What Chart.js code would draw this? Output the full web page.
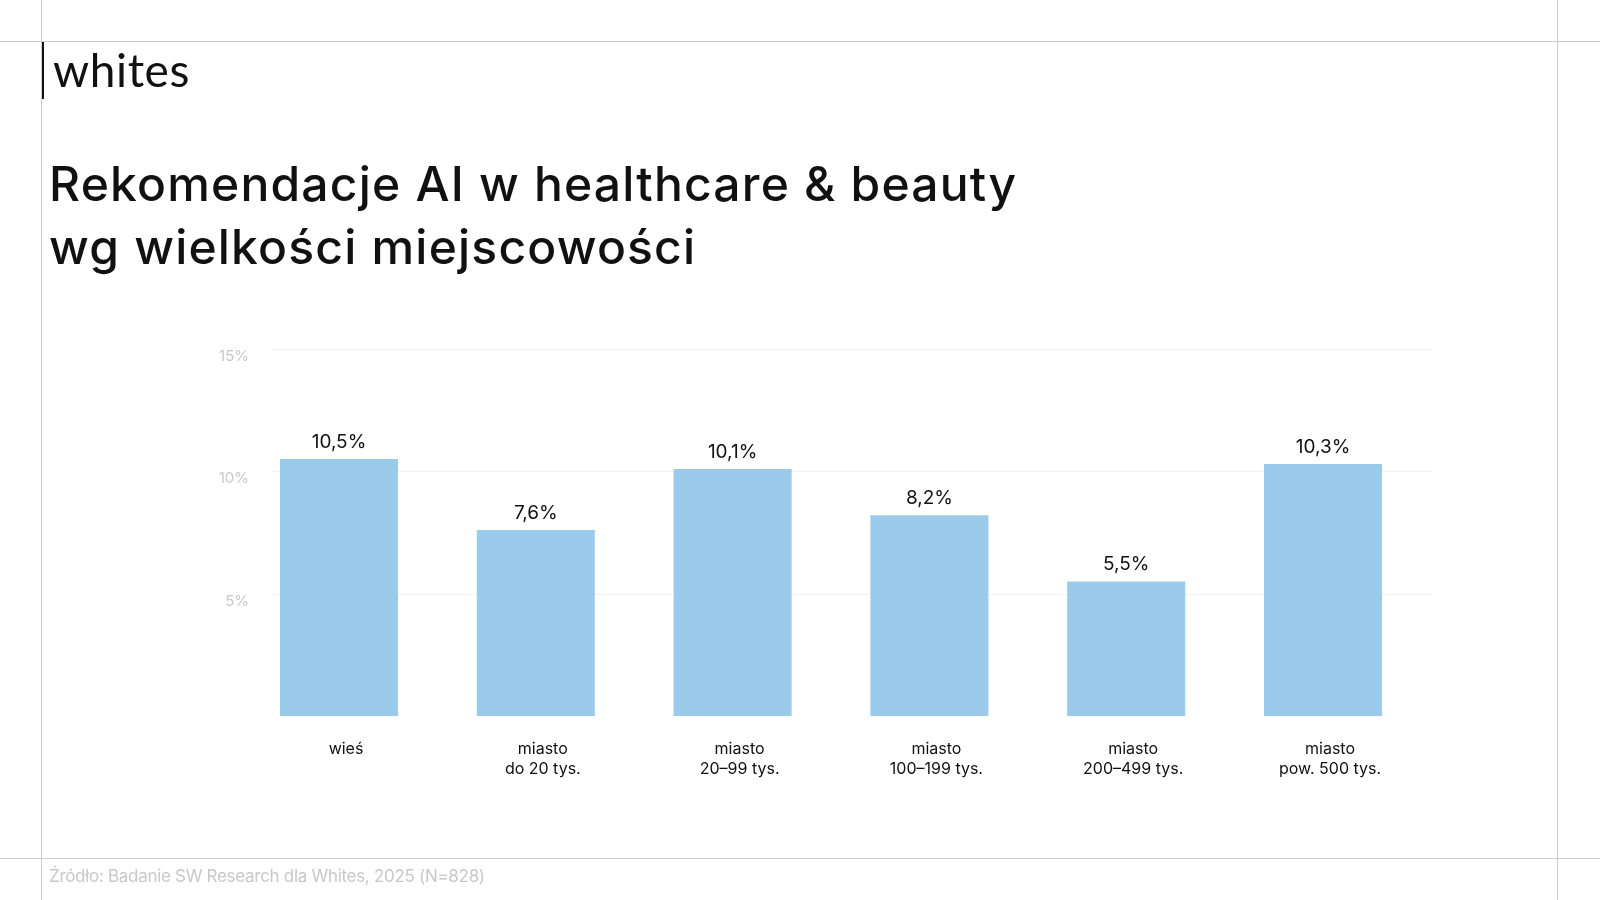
<!DOCTYPE html>
<html lang="pl">
<head>
<meta charset="UTF-8">
<title>Rekomendacje AI w healthcare & beauty</title>
<script src="https://cdn.jsdelivr.net/npm/chart.js"></script>
<style>
    html, body {
        margin: 0;
        padding: 0;
        background: #ffffff;
    }
    body {
        width: 1600px;
        height: 900px;
        position: relative;
        overflow: hidden;
        font-family: Inter, "Noto Sans", sans-serif;
    }
    .hline, .vline {
        position: absolute;
        background: #cccccc;
    }
    .hline { left: 0; width: 1600px; height: 1px; }
    .vline { top: 0; height: 900px; width: 1px; }

    #logo {
        position: absolute;
        left: 53px;
        top: 40px;
        font-family: Lato, "Noto Sans", sans-serif;
        font-size: 46px;
        line-height: 60px;
        letter-spacing: 0.6px;
        color: #111;
    }
    #logoBar {
        position: absolute;
        left: 42px;
        top: 42px;
        width: 2px;
        height: 57px;
        background: #111;
    }
    #title {
        position: absolute;
        left: 49px;
        top: 152px;
        margin: 0;
        font-size: 48px;
        line-height: 63px;
        font-weight: 500;
        color: #111;
        letter-spacing: 1.2px;
    }
    #source {
        position: absolute;
        left: 49px;
        top: 864px;
        font-size: 17px;
        line-height: 24px;
        letter-spacing: -0.3px;
        color: #c8c8c8;
    }
    #chart {
        position: absolute;
        left: 0;
        top: 0;
    }
</style>
</head>
<body>

<canvas id="chart" width="1600" height="900"></canvas>

<div class="hline" style="top:41px"></div>
<div class="hline" style="top:858px"></div>
<div class="vline" style="left:41px"></div>
<div class="vline" style="left:1557px"></div>

<div id="logoBar"></div>
<div id="logo">whites</div>

<h1 id="title">Rekomendacje AI w healthcare &amp; beauty<br>wg wielkości miejscowości</h1>

<div id="source">Źródło: Badanie SW Research dla Whites, 2025 (N=828)</div>

<script>
    // dane
    const categories = [
        ['wieś'],
        ['miasto', 'do 20 tys.'],
        ['miasto', '20–99 tys.'],
        ['miasto', '100–199 tys.'],
        ['miasto', '200–499 tys.'],
        ['miasto', 'pow. 500 tys.']
    ];
    const values = [10.5, 7.6, 10.1, 8.2, 5.5, 10.3];
    const yTickValues = [0, 5, 10, 15];

    const fmt = v => v.toFixed(1).replace('.', ',') + '%';

    // siatka i etykiety osi Y (siatka szersza niz obszar wykresu)
    const yAxisPlugin = {
        id: 'softGrid',
        beforeDatasetsDraw(chart) {
            const { ctx, scales } = chart;
            ctx.save();
            ctx.strokeStyle = '#f1f1f1';
            ctx.lineWidth = 1;
            ctx.font = '400 15px Inter, "Noto Sans", sans-serif';
            ctx.fillStyle = '#c8c8c8';
            ctx.textAlign = 'right';
            ctx.textBaseline = 'middle';
            scales.y.ticks.forEach(t => {
                if (t.value === 0) return;
                const y = Math.round(scales.y.getPixelForValue(t.value)) + 0.5;
                ctx.beginPath();
                ctx.moveTo(272, y);
                ctx.lineTo(1432, y);
                ctx.stroke();
                ctx.fillText(t.value + '%', 249, y + 7);
            });
            ctx.restore();
        }
    };

    // etykiety wartosci nad slupkami
    const valueLabels = {
        id: 'valueLabels',
        afterDatasetsDraw(chart) {
            const { ctx } = chart;
            const meta = chart.getDatasetMeta(0);
            ctx.save();
            ctx.font = '400 19px Inter, "Noto Sans", sans-serif';
            ctx.fillStyle = '#111111';
            ctx.textAlign = 'center';
            ctx.textBaseline = 'middle';
            meta.data.forEach((bar, i) => {
                ctx.fillText(fmt(values[i]), bar.x, bar.y - 17);
            });
            ctx.restore();
        }
    };

    new Chart(document.getElementById('chart'), {
        type: 'bar',
        data: {
            labels: categories,
            datasets: [{
                data: values,
                backgroundColor: '#9bcbea',
                borderWidth: 0,
                categoryPercentage: 1,
                barPercentage: 0.6
            }]
        },
        options: {
            responsive: false,
            animation: false,
            layout: {
                padding: { left: 200.6, right: 178.6, top: 349, bottom: 104 }
            },
            plugins: {
                legend: { display: false },
                tooltip: { enabled: false }
            },
            scales: {
                x: {
                    grid: { display: false, drawTicks: false },
                    border: { display: false },
                    afterFit(scale) { scale.height = 80; },
                    ticks: {
                        color: '#111111',
                        font: { family: 'Inter, "Noto Sans", sans-serif', size: 16, lineHeight: 1.25 },
                        padding: 23,
                        labelOffset: 7,
                        maxRotation: 0,
                        autoSkip: false
                    }
                },
                y: {
                    min: 0,
                    max: 15,
                    grid: { display: false, drawTicks: false },
                    border: { display: false },
                    afterFit(scale) { scale.width = 40; },
                    afterBuildTicks(scale) {
                        scale.ticks = yTickValues.map(v => ({ value: v }));
                    },
                    ticks: { display: false }
                }
            }
        },
        plugins: [yAxisPlugin, valueLabels]
    });
</script>
</body>
</html>
